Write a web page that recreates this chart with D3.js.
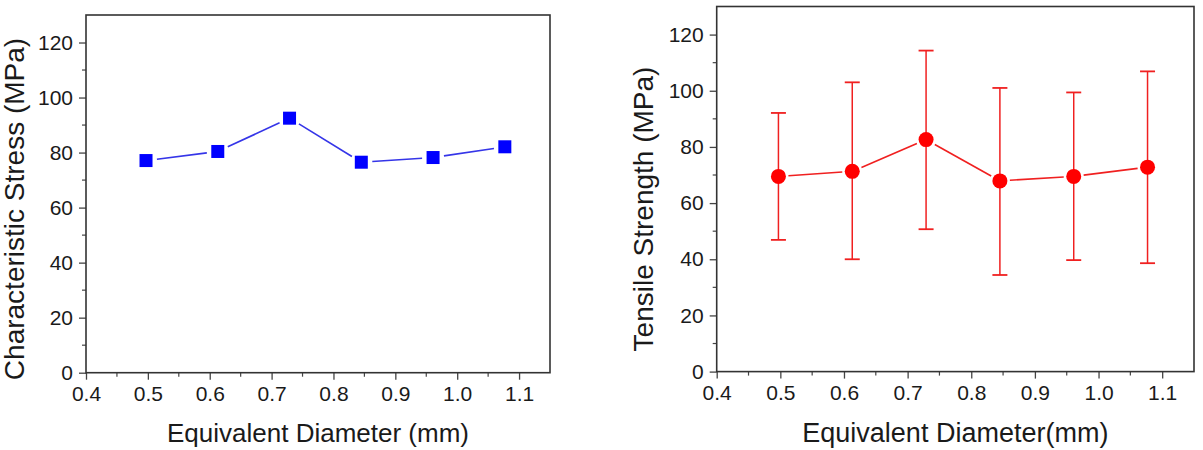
<!doctype html>
<html>
<head>
<meta charset="utf-8">
<script src="https://cdn.jsdelivr.net/npm/d3@7/dist/d3.min.js"></script>
<style>
  body { margin: 0; background: #fff; }
  text { font-family: "Liberation Sans", Arial, Helvetica, sans-serif; fill: #1a1a1a; }
</style>
</head>
<body>
<svg id="chart" width="1203" height="450"></svg>
<script>
// data
var diameters   = [0.497, 0.613, 0.729, 0.845, 0.961, 1.077];
var charStress  = [77.1, 80.4, 92.5, 76.5, 78.2, 82.1];
var tensile     = [69.5, 71.3, 82.6, 67.9, 69.5, 72.8];
var tensileHigh = [92.1, 103.0, 114.3, 101.0, 99.4, 106.9];
var tensileLow  = [46.9, 40.0, 50.7, 34.4, 39.7, 38.6];
var xTicks = [0.4, 0.5, 0.6, 0.7, 0.8, 0.9, 1.0, 1.1];
var yTicks = [0, 20, 40, 60, 80, 100, 120];

var svg = d3.select("#chart");
svg.append("rect").attr("width",1203).attr("height",450).attr("fill","#fff");

function panel(opt) {
    var x = d3.scaleLinear().domain([0.4,1.15]).range([opt.left,opt.right]);
    var y = d3.scaleLinear().domain([0,130]).range([opt.bottom,opt.top]);
    var g = svg.append("g");

    // minor ticks
    var xMinor = d3.range(0.45,1.15,0.1);
    var yMinor = d3.range(10,130,20);
    g.selectAll("line.xmin").data(xMinor).enter().append("line")
        .attr("x1",d=>x(d)).attr("x2",d=>x(d))
        .attr("y1",opt.bottom).attr("y2",opt.bottom+4)
        .attr("stroke","#444").attr("stroke-width",1.2);
    g.selectAll("line.ymin").data(yMinor).enter().append("line")
        .attr("x1",opt.left-4).attr("x2",opt.left)
        .attr("y1",d=>y(d)).attr("y2",d=>y(d))
        .attr("stroke","#444").attr("stroke-width",1.2);

    var xaxis = d3.axisBottom(x).tickValues(xTicks).tickFormat(d3.format(".1f")).tickSize(7).tickPadding(6);
    var yaxis = d3.axisLeft(y).tickValues(yTicks).tickSize(7).tickPadding(6);
    var gx = g.append("g").attr("transform","translate(0,"+opt.bottom+")").call(xaxis);
    var gy = g.append("g").attr("transform","translate("+opt.left+",0)").call(yaxis);
    [gx,gy].forEach(a=>{
        a.select(".domain").remove();
        a.selectAll("line").attr("stroke","#444").attr("stroke-width",1.3);
        a.selectAll("text").style("font-size","21px").attr("fill","#1a1a1a");
    });

    // frame
    g.append("rect").attr("x",opt.left).attr("y",opt.top)
        .attr("width",opt.right-opt.left).attr("height",opt.bottom-opt.top)
        .attr("fill","none").attr("stroke","#333").attr("stroke-width",1.6);

    g.append("text").attr("x",(opt.left+opt.right)/2).attr("y",442)
        .attr("text-anchor","middle").style("font-size",opt.xSize+"px").text(opt.xTitle);
    g.append("text").attr("transform","translate("+opt.yTitleX+","+opt.yTitleY+") rotate(-90)")
        .attr("text-anchor","middle").style("font-size",opt.ySize+"px").text(opt.yTitle);

    return {x:x, y:y, g:g};
}

// connecting line with small gaps at the markers
function gapLine(p, xs, ys, color, gap) {
    var pts = xs.map((d,i)=>[p.x(d), p.y(ys[i])]);
    var segs = d3.pairs(pts);
    p.g.selectAll(null).data(segs).enter().append("line")
        .each(function(s){
            var dx=s[1][0]-s[0][0], dy=s[1][1]-s[0][1], L=Math.hypot(dx,dy);
            var ux=dx/L, uy=dy/L;
            d3.select(this)
              .attr("x1",s[0][0]+ux*gap).attr("y1",s[0][1]+uy*gap)
              .attr("x2",s[1][0]-ux*gap).attr("y2",s[1][1]-uy*gap);
        })
        .attr("stroke",color).attr("stroke-width",1.6);
}

// left: characteristic stress
var pL = panel({left:86, right:550, top:15, bottom:372.7,
    xTitle:"Equivalent Diameter (mm)", xSize:26,
    yTitle:"Characteristic Stress (MPa)", ySize:28, yTitleX:24, yTitleY:209});
gapLine(pL, diameters, charStress, "#3535e8", 11);
pL.g.selectAll("rect.sq").data(diameters).enter().append("rect")
    .attr("x",d=>pL.x(d)-6.5).attr("y",(d,i)=>pL.y(charStress[i])-6.5)
    .attr("width",13).attr("height",13).attr("fill","#0000ff");

// right: tensile strength with error bars
var pR = panel({left:716.7, right:1194, top:6.5, bottom:371.6,
    xTitle:"Equivalent Diameter(mm)", xSize:27,
    yTitle:"Tensile Strength (MPa)", ySize:28, yTitleX:653, yTitleY:209});
var eb = pR.g.selectAll("g.eb").data(diameters).enter().append("g");
eb.append("line")
    .attr("x1",d=>pR.x(d)).attr("x2",d=>pR.x(d))
    .attr("y1",(d,i)=>pR.y(tensileHigh[i])).attr("y2",(d,i)=>pR.y(tensileLow[i]))
    .attr("stroke","#f02020").attr("stroke-width",1.5);
[tensileHigh,tensileLow].forEach(arr=>{
    eb.append("line")
        .attr("x1",d=>pR.x(d)-7.5).attr("x2",d=>pR.x(d)+7.5)
        .attr("y1",(d,i)=>pR.y(arr[i])).attr("y2",(d,i)=>pR.y(arr[i]))
        .attr("stroke","#f02020").attr("stroke-width",1.8);
});
gapLine(pR, diameters, tensile, "#f02020", 10);
pR.g.selectAll("circle.pt").data(diameters).enter().append("circle")
    .attr("cx",d=>pR.x(d)).attr("cy",(d,i)=>pR.y(tensile[i]))
    .attr("r",7.5).attr("fill","#ff0000");
</script>
</body>
</html>
